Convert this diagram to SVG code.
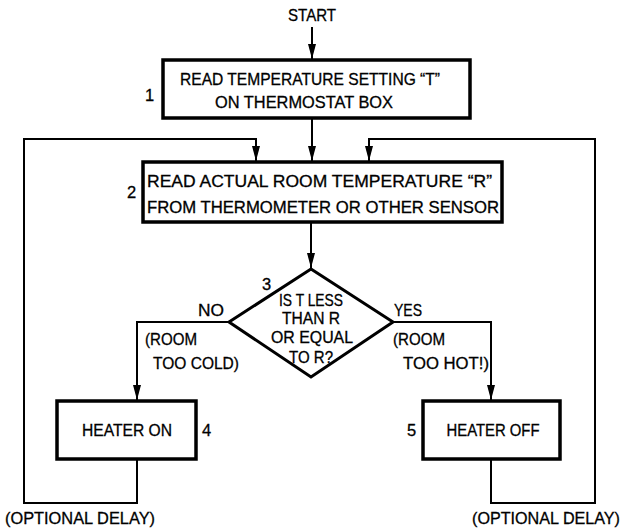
<svg xmlns="http://www.w3.org/2000/svg" width="622" height="528" viewBox="0 0 622 528">
<style>
text{font-family:"Liberation Sans",Arial,sans-serif;font-size:16.5px;fill:#000;stroke:#000;stroke-width:0.3}
.c{text-anchor:middle}
.box{fill:#fff;stroke:#000;stroke-width:3.5}
.ln{fill:none;stroke:#000;stroke-width:2}
</style>
<defs>
<marker id="ah" viewBox="0 0 15 8" refX="15" refY="4" markerWidth="15" markerHeight="8" markerUnits="userSpaceOnUse" orient="auto">
<path d="M0,0 L15,4 L0,8 z" fill="#000"/>
</marker>
</defs>
<rect width="622" height="528" fill="#fff"/>
<g id="connectors">
<path class="ln" d="M312,27 V59" marker-end="url(#ah)"/>
<path class="ln" d="M312,118 V161" marker-end="url(#ah)"/>
<path class="ln" d="M137,459 V503 H24 V139 H256 V161" marker-end="url(#ah)"/>
<path class="ln" d="M491,459 V503 H595 V139 H369 V161" marker-end="url(#ah)"/>
<path class="ln" d="M311,222 V268" marker-end="url(#ah)"/>
<path class="ln" d="M229,322 H137 V400" marker-end="url(#ah)"/>
<path class="ln" d="M393,322 H491 V400" marker-end="url(#ah)"/>
</g>
<g id="start">
<text class="c" x="312" y="21" textLength="48" lengthAdjust="spacingAndGlyphs">START</text>
</g>
<g id="node1">
<rect class="box" x="163" y="60" width="307" height="58"/>
<text x="145" y="101">1</text>
<text x="180" y="85" textLength="260" lengthAdjust="spacingAndGlyphs">READ TEMPERATURE SETTING “T”</text>
<text x="215" y="108" textLength="178" lengthAdjust="spacingAndGlyphs">ON THERMOSTAT BOX</text>
</g>
<g id="node2">
<rect class="box" x="143" y="162" width="359" height="60"/>
<text x="127" y="198">2</text>
<text x="147" y="187" textLength="345" lengthAdjust="spacingAndGlyphs">READ ACTUAL ROOM TEMPERATURE “R”</text>
<text x="147" y="213" textLength="352" lengthAdjust="spacingAndGlyphs">FROM THERMOMETER OR OTHER SENSOR</text>
</g>
<g id="node3">
<polygon class="box" points="311,269 393,322 311,377 229,322" style="stroke-width:3"/>
<text x="262" y="290">3</text>
<text class="c" x="311" y="306" textLength="64" lengthAdjust="spacingAndGlyphs">IS T LESS</text>
<text class="c" x="311" y="324" textLength="58" lengthAdjust="spacingAndGlyphs">THAN R</text>
<text class="c" x="312" y="343" textLength="82" lengthAdjust="spacingAndGlyphs">OR EQUAL</text>
<text class="c" x="311" y="363" textLength="44" lengthAdjust="spacingAndGlyphs">TO R?</text>
<text x="198" y="316" textLength="26" lengthAdjust="spacingAndGlyphs">NO</text>
<text x="394" y="316" textLength="28" lengthAdjust="spacingAndGlyphs">YES</text>
<text x="145" y="345" textLength="52" lengthAdjust="spacingAndGlyphs">(ROOM</text>
<text x="153" y="369" textLength="86" lengthAdjust="spacingAndGlyphs">TOO COLD)</text>
<text x="393" y="345" textLength="52" lengthAdjust="spacingAndGlyphs">(ROOM</text>
<text x="403" y="369" textLength="86" lengthAdjust="spacingAndGlyphs">TOO HOT!)</text>
</g>
<g id="node4">
<rect class="box" x="57" y="401" width="139" height="58"/>
<text class="c" x="127" y="436" textLength="90" lengthAdjust="spacingAndGlyphs">HEATER ON</text>
<text x="202" y="436">4</text>
</g>
<g id="node5">
<rect class="box" x="423" y="401" width="137" height="58"/>
<text class="c" x="493" y="436" textLength="93" lengthAdjust="spacingAndGlyphs">HEATER OFF</text>
<text x="407" y="436">5</text>
</g>
<g id="delays">
<text x="5" y="524" textLength="150" lengthAdjust="spacingAndGlyphs">(OPTIONAL DELAY)</text>
<text x="472" y="524" textLength="148" lengthAdjust="spacingAndGlyphs">(OPTIONAL DELAY)</text>
</g>
</svg>
